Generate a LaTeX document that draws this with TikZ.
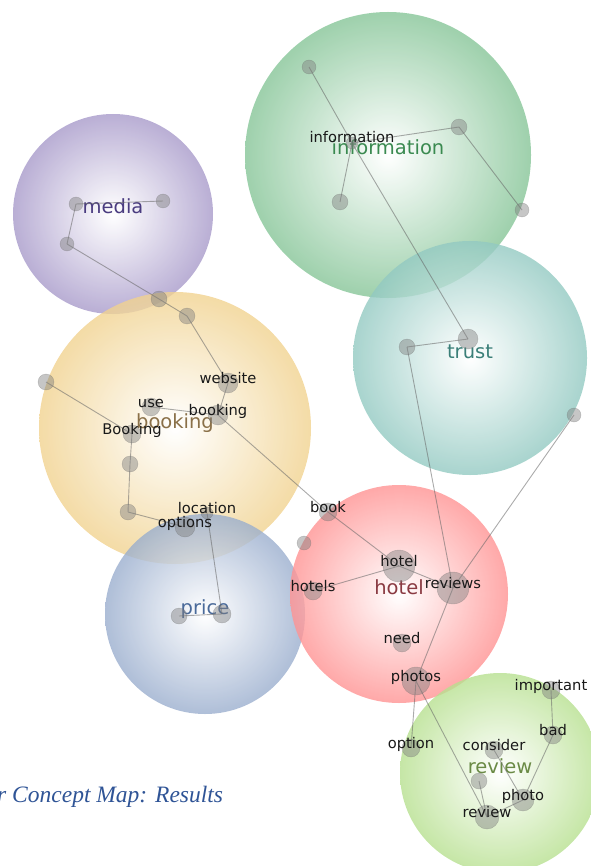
\documentclass[tikz,border=0pt]{standalone}
\usepackage{fontspec}
\setmainfont{DejaVu Sans}
\newfontfamily\capfont{Liberation Serif}
\usetikzlibrary{positioning}
\definecolor{mediacol}{RGB}{140,122,185}
\definecolor{infocol}{RGB}{95,178,118}
\definecolor{trustcol}{RGB}{112,184,174}
\definecolor{bookcol}{RGB}{236,196,108}
\definecolor{pricecol}{RGB}{122,148,190}
\definecolor{hotelcol}{RGB}{255,112,112}
\definecolor{reviewcol}{RGB}{160,214,108}
\definecolor{mediatxt}{RGB}{74,60,128}
\definecolor{infotxt}{RGB}{58,138,80}
\definecolor{trusttxt}{RGB}{58,127,120}
\definecolor{booktxt}{RGB}{138,112,72}
\definecolor{pricetxt}{RGB}{74,106,154}
\definecolor{hoteltxt}{RGB}{138,58,66}
\definecolor{reviewtxt}{RGB}{106,138,69}
\definecolor{capcol}{RGB}{47,84,150}
\newcommand{\mkball}[2]{\pgfdeclareradialshading{#1}{\pgfpointorigin}{color(0bp)=(white); color(33bp)=(#2); color(50bp)=(#2)}}
\mkball{mediaball}{mediacol}
\mkball{infoball}{infocol}
\mkball{trustball}{trustcol}
\mkball{bookball}{bookcol}
\mkball{priceball}{pricecol}
\mkball{hotelball}{hotelcol}
\mkball{reviewball}{reviewcol}
\pgfdeclarelayer{topics}
\pgfdeclarelayer{links}
\pgfsetlayers{topics,links,main}
\tikzset{
    topicsty/.style={circle, inner sep=0pt, shade, shading=#1, fill opacity=0.8},
    topicword/.style={yshift=5pt, text height=14pt, text depth=4pt, font=\fontsize{19.5}{22}\selectfont, fill opacity=1, text opacity=1},
    termsty/.style={circle, inner sep=0pt, fill=gray, fill opacity=0.45, draw=gray!70!black, draw opacity=0.3},
    wordsty/.style={yshift=3.75pt, text height=10.5pt, text depth=3pt, font=\fontsize{14.7}{16}\selectfont, text=black!90, fill opacity=1, text opacity=1},
    linksty/.style={draw=black!60, opacity=0.55, line width=0.9pt},
    capsty/.style={anchor=base west, inner sep=0pt, font=\capfont\itshape\fontsize{23.5}{26}\selectfont, text=capcol},
}

\begin{document}
\begin{tikzpicture}[x=1pt, y=-1pt]
  \useasboundingbox (0,0) rectangle (590,866);

  % topic bubbles
  \begin{pgfonlayer}{topics}
  \node[topicsty=infoball, minimum size=286, label={[topicword, text=infotxt]center:information}] (information) at (388,155) {};
  \node[topicsty=trustball, minimum size=234, label={[topicword, text=trusttxt]center:trust}] (trust) at (470,358) {};
  \node[topicsty=mediaball, minimum size=200, label={[topicword, text=mediatxt]center:media}] (media) at (113,214) {};
  \node[topicsty=bookball, minimum size=272, label={[topicword, text=booktxt]center:booking}] (booking) at (175,428) {};
  \node[topicsty=priceball, minimum size=200, label={[topicword, text=pricetxt]center:price}] (price) at (205,614) {};
  \node[topicsty=hotelball, minimum size=218, label={[topicword, text=hoteltxt]center:hotel}] (hotel) at (399,594) {};
  \node[topicsty=reviewball, minimum size=200, label={[topicword, text=reviewtxt]center:review}] (review) at (500,773) {};
  \end{pgfonlayer}

  % media terms
  \node[termsty, minimum size=14] (m1) at (76,204) {};
  \node[termsty, minimum size=14] (m2) at (163,201) {};
  \node[termsty, minimum size=14] (m3) at (67,244) {};
  \node[termsty, minimum size=16] (m4) at (159,299) {};
  \node[termsty, minimum size=16] (m5) at (187,316) {};

  % booking terms
  \node[termsty, minimum size=20, label={[wordsty]center:website}] (website) at (228,383) {};
  \node[termsty, minimum size=20, label={[wordsty]center:booking}] (booking-t) at (218,415) {};
  \node[termsty, minimum size=18, label={[wordsty]center:use}] (use) at (151,407) {};
  \node[termsty, minimum size=18, label={[wordsty]center:Booking}] (Booking-t) at (132,434) {};
  \node[termsty, minimum size=16] (b1) at (46,382) {};
  \node[termsty, minimum size=16] (b2) at (130,464) {};
  \node[termsty, minimum size=16] (b3) at (128,512) {};
  \node[termsty, minimum size=20, label={[wordsty]center:options}] (options) at (185,527) {};
  \node[termsty, minimum size=12, label={[wordsty]center:location}] (location) at (207,513) {};

  % information terms
  \node[termsty, minimum size=14] (i1) at (309,67) {};
  \node[termsty, minimum size=16] (i2) at (459,127) {};
  \node[termsty, minimum size=12, label={[wordsty]center:information}] (information-t) at (352,143) {};
  \node[termsty, minimum size=16] (i3) at (340,202) {};
  \node[termsty, minimum size=14] (i4) at (522,210) {};

  % trust terms
  \node[termsty, minimum size=20] (t1) at (468,339) {};
  \node[termsty, minimum size=16] (t2) at (407,347) {};
  \node[termsty, minimum size=14] (t3) at (574,415) {};

  % price terms
  \node[termsty, minimum size=16] (p1) at (179,616) {};
  \node[termsty, minimum size=18] (p2) at (222,614) {};

  % hotel terms
  \node[termsty, minimum size=18, label={[wordsty]center:book}] (book) at (328,512) {};
  \node[termsty, minimum size=14] (h1) at (304,543) {};
  \node[termsty, minimum size=32, label={[wordsty]center:hotel}] (hotel-t) at (399,566) {};
  \node[termsty, minimum size=18, label={[wordsty]center:hotels}] (hotels) at (313,591) {};
  \node[termsty, minimum size=32, label={[wordsty]center:reviews}] (reviews) at (453,588) {};
  \node[termsty, minimum size=18, label={[wordsty]center:need}] (need) at (402,643) {};
  \node[termsty, minimum size=28, label={[wordsty]center:photos}] (photos) at (416,681) {};

  % review terms
  \node[termsty, minimum size=18, label={[wordsty]center:important}] (important) at (551,690) {};
  \node[termsty, minimum size=18, label={[wordsty]center:bad}] (bad) at (553,735) {};
  \node[termsty, minimum size=18, label={[wordsty]center:option}] (option) at (411,748) {};
  \node[termsty, minimum size=18, label={[wordsty]center:consider}] (consider) at (494,750) {};
  \node[termsty, minimum size=16] (r1) at (479,781) {};
  \node[termsty, minimum size=22, label={[wordsty]center:photo}] (photo) at (523,800) {};
  \node[termsty, minimum size=24, label={[wordsty]center:review}] (review-t) at (487,817) {};

  % links
  \begin{pgfonlayer}{links}
  \foreach \a/\b in {m2/m1, m1/m3, m3/m4, m4/m5, m5/website, website/booking-t, booking-t/use,
                     booking-t/book, b1/Booking-t, Booking-t/b2, b2/b3, b3/options, location/p2, p1/p2,
                     i1/information-t, information-t/t1, i2/information-t, information-t/i3, i2/i4,
                     t1/t2, t2/reviews, t3/reviews, book/hotel-t, hotel-t/hotels, hotel-t/reviews,
                     reviews/photos, photos/option, photos/review-t, important/bad, bad/photo,
                     photo/review-t, consider/photo, r1/review-t}
    \draw[linksty] (\a.center) -- (\b.center);
  \end{pgfonlayer}

  \node[capsty] (caption) at (-3,802) {r Concept Map: Results};
\end{tikzpicture}
\end{document}
